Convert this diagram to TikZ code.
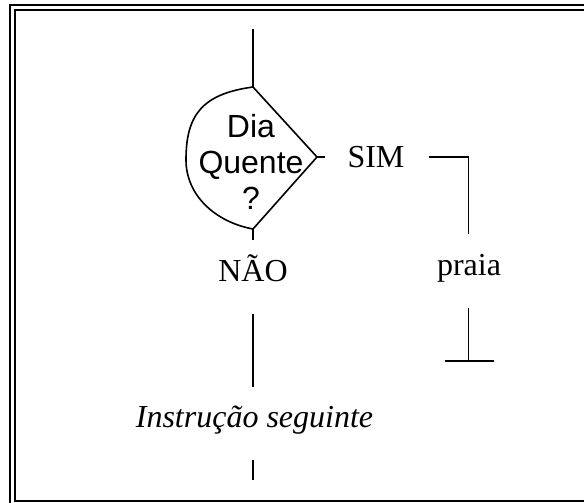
\documentclass[tikz,border=0pt]{standalone}
\usepackage{fontspec}
\setmainfont{Liberation Serif}
\newfontfamily\condfont{Liberation Sans}
\usetikzlibrary{positioning}

\begin{document}
\begin{tikzpicture}[x=1pt,y=-1pt,line width=1.6pt,
    frame line/.style={line width=2pt},
    word node/.style={font=\fontsize{32}{36}\selectfont,inner sep=0pt,anchor=base},
    cond node/.style={font=\condfont\fontsize{32}{36}\selectfont,align=center,inner sep=0pt}]
    \useasboundingbox (0,0) rectangle (584,503);

    % double frame
    \draw[frame line] (10,5.5) rectangle (640,540);
    \draw[frame line] (15,10) rectangle (630,501);

    % texts
    \node[cond node] (cond) at (251,162) {Dia\\Quente\\?};
    \node[word node] (sim) at (376,167) {SIM};
    \node[word node] (nao) at (253,281) {NÃO};
    \node[word node] (praia) at (469,275) {praia};
    \node[word node] (next) at (254.5,427) {\textit{Instrução seguinte}};

    % decision shape
    \coordinate (top) at (253,87);
    \coordinate (tip) at (317,157);
    \coordinate (bot) at (253,229);
    \draw (top) -- (tip) -- (bot)
        .. controls (215,222) and (186,195) .. (186,160)
        .. controls (186,115) and (202,94) .. (top);

    % flow lines
    \coordinate (start) at (253,29);
    \coordinate (tipend) at (325,157);
    \coordinate (botend) at (253,240);
    \coordinate (simout) at (429,157);
    \coordinate (praiain) at (468.5,234);
    \coordinate (praiaout) at (468.5,308);
    \coordinate (praiaend) at (468.5,361);
    \coordinate (barl) at (445,361);
    \coordinate (barr) at (493.5,361);
    \coordinate (naoout) at (253,314);
    \coordinate (nextin) at (253,387);
    \coordinate (nextout) at (253,460);
    \coordinate (stop) at (253,480);

    \draw (start) -- (top);
    \draw (tip) -- (tipend);
    \draw (bot) -- (botend);
    \draw (simout) -| (praiain);
    \draw (praiaout) -- (praiaend);
    \draw (barl) -- (barr);
    \draw (naoout) -- (nextin);
    \draw (nextout) -- (stop);
\end{tikzpicture}
\end{document}
